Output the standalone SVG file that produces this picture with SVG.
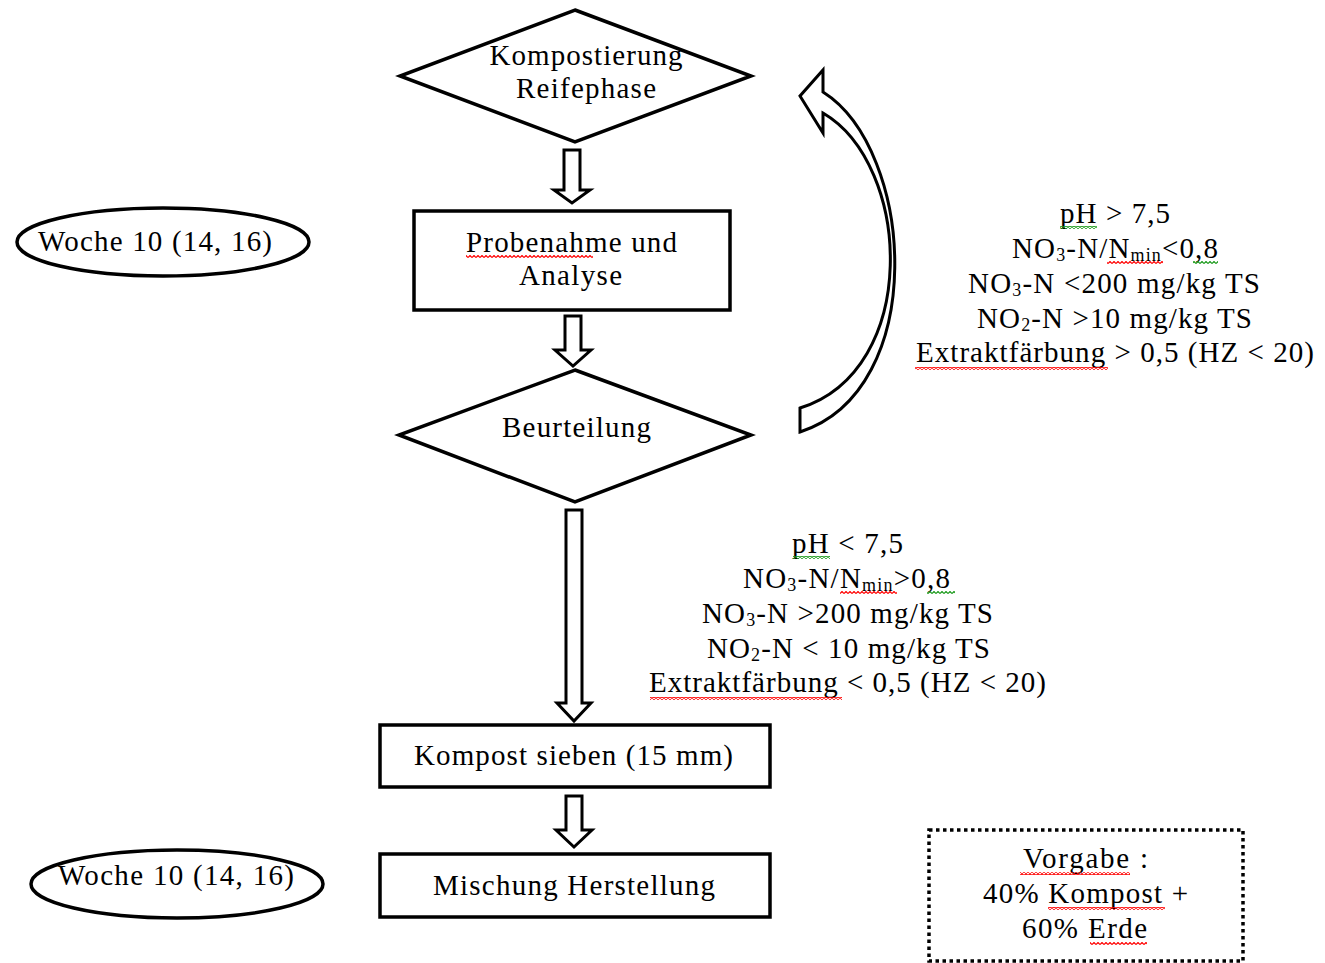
<svg xmlns="http://www.w3.org/2000/svg" width="1325" height="963" viewBox="0 0 1325 963">
<style>
.sh{fill:#fff;stroke:#000;stroke-width:3.5;stroke-linejoin:miter}
.ar{fill:#fff;stroke:#000;stroke-width:3;stroke-linejoin:miter}
.t{font-family:"Liberation Serif","Times New Roman",serif;font-size:29px;fill:#000;text-anchor:middle}
.sub{font-size:18px}
.red{fill:url(#wr)}
.grn{fill:url(#wg)}
</style>
<defs>
<pattern id="wr" width="4" height="3" patternUnits="userSpaceOnUse">
<path d="M0 2.5 L2 0.5 L4 2.5" fill="none" stroke="#f00" stroke-width="1.2"/>
</pattern>
<pattern id="wg" width="4" height="3" patternUnits="userSpaceOnUse">
<path d="M0 2.5 L2 0.5 L4 2.5" fill="none" stroke="#1a9a1a" stroke-width="1.2"/>
</pattern>
</defs>
<rect width="1325" height="963" fill="#fff"/>

<g id="connectors">
<path class="ar" d="M564 150 H580 V190 H590 L572 203 L554 190 H564 Z"/>
<path class="ar" d="M565 316 H581 V350 H591 L573 366 L555 350 H565 Z"/>
<path class="ar" d="M566 510 H582 V703 H591 L574 721 L557 703 H566 Z"/>
<path class="ar" d="M566 796 H582 V830 H592 L574 847 L556 830 H566 Z"/>
<path class="ar" d="M800 408 C921 370 912 165 823 113 L823 133 L800 96 L823 70 L823 92 C915 150 930 390 800 432 Z"/>
</g>

<g id="n-kompostierung">
<polygon class="sh" points="575,10 751,76 575,142 400,76"/>
<text class="t" x="586" y="65" textLength="193" lengthAdjust="spacing">Kompostierung</text>
<text class="t" x="586" y="98" textLength="140" lengthAdjust="spacing">Reifephase</text>
</g>

<g id="n-woche1">
<ellipse class="sh" cx="163" cy="242" rx="146" ry="34"/>
<text class="t" x="155" y="251" textLength="234" lengthAdjust="spacing">Woche 10 (14, 16)</text>
</g>

<g id="n-probenahme">
<rect class="sh" x="414" y="211" width="316" height="99"/>
<text class="t" x="571.5" y="252" textLength="211" lengthAdjust="spacing">Probenahme und</text>
<rect class="red" x="466" y="255" width="127" height="3"/>
<text class="t" x="570.5" y="285" textLength="103" lengthAdjust="spacing">Analyse</text>
</g>

<g id="n-beurteilung">
<polygon class="sh" points="575,370 751,435 575,502 399,435"/>
<text class="t" x="576.5" y="437" textLength="149" lengthAdjust="spacing">Beurteilung</text>
</g>

<g id="n-cond1">
<text class="t" x="1115" y="223" textLength="110" lengthAdjust="spacing">pH &gt; 7,5</text>
<rect class="grn" x="1060" y="226" width="37" height="3"/>
<text class="t" x="1115" y="258" textLength="206" lengthAdjust="spacing">NO<tspan class="sub" dy="3">3</tspan><tspan dy="-3">-N/N</tspan><tspan class="sub" dy="3">min</tspan><tspan dy="-3">&lt;0,8</tspan></text>
<rect class="red" x="1107" y="261" width="56" height="3"/>
<rect class="grn" x="1193" y="261" width="25" height="3"/>
<text class="t" x="1114" y="293" textLength="292" lengthAdjust="spacing">NO<tspan class="sub" dy="3">3</tspan><tspan dy="-3">-N &lt;200 mg/kg TS</tspan></text>
<text class="t" x="1114.5" y="328" textLength="275" lengthAdjust="spacing">NO<tspan class="sub" dy="3">2</tspan><tspan dy="-3">-N &gt;10 mg/kg TS</tspan></text>
<text class="t" x="1115" y="362" textLength="398" lengthAdjust="spacing">Extraktfärbung &gt; 0,5 (HZ &lt; 20)</text>
<rect class="red" x="915" y="367" width="193" height="3"/>
</g>

<g id="n-cond2">
<text class="t" x="847.5" y="553" textLength="111" lengthAdjust="spacing">pH &lt; 7,5</text>
<rect class="grn" x="793" y="556" width="37" height="3"/>
<text class="t" x="846.5" y="588" textLength="207" lengthAdjust="spacing">NO<tspan class="sub" dy="3">3</tspan><tspan dy="-3">-N/N</tspan><tspan class="sub" dy="3">min</tspan><tspan dy="-3">&gt;0,8</tspan></text>
<rect class="red" x="840" y="591" width="57" height="3"/>
<rect class="grn" x="927" y="591" width="28" height="3"/>
<text class="t" x="847.5" y="623" textLength="291" lengthAdjust="spacing">NO<tspan class="sub" dy="3">3</tspan><tspan dy="-3">-N &gt;200 mg/kg TS</tspan></text>
<text class="t" x="848.5" y="658" textLength="283" lengthAdjust="spacing">NO<tspan class="sub" dy="3">2</tspan><tspan dy="-3">-N &lt; 10 mg/kg TS</tspan></text>
<text class="t" x="847.5" y="692" textLength="397" lengthAdjust="spacing">Extraktfärbung &lt; 0,5 (HZ &lt; 20)</text>
<rect class="red" x="650" y="697" width="192" height="3"/>
</g>

<g id="n-sieben">
<rect class="sh" x="380" y="725" width="390" height="62"/>
<text class="t" x="573.5" y="765" textLength="319" lengthAdjust="spacing">Kompost sieben (15 mm)</text>
</g>

<g id="n-mischung">
<rect class="sh" x="380" y="854" width="390" height="63"/>
<text class="t" x="574" y="895" textLength="282" lengthAdjust="spacing">Mischung Herstellung</text>
</g>

<g id="n-woche2">
<ellipse class="sh" cx="177" cy="884" rx="146" ry="34"/>
<text class="t" x="176" y="885" textLength="236" lengthAdjust="spacing">Woche 10 (14, 16)</text>
</g>

<g id="n-vorgabe">
<rect x="929" y="830" width="314" height="131" fill="#fff" stroke="#000" stroke-width="3.5" stroke-dasharray="3.5 3.5"/>
<text class="t" x="1085.5" y="868" textLength="125" lengthAdjust="spacing">Vorgabe :</text>
<rect class="red" x="1020" y="872" width="110" height="3"/>
<text class="t" x="1085.5" y="903" textLength="205" lengthAdjust="spacing">40% Kompost +</text>
<rect class="red" x="1048" y="907" width="117" height="3"/>
<text class="t" x="1084.5" y="938" textLength="125" lengthAdjust="spacing">60% Erde</text>
<rect class="red" x="1090" y="942" width="57" height="3"/>
</g>
</svg>
